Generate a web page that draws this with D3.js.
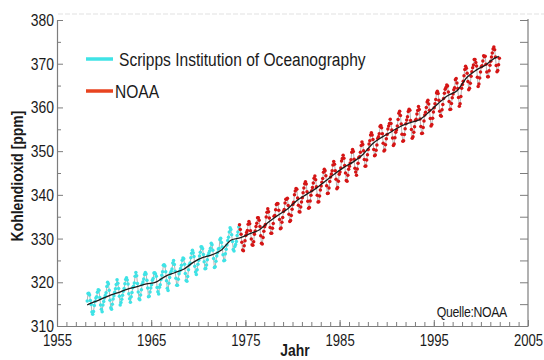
<!DOCTYPE html>
<html>
<head>
<meta charset="utf-8">
<script src="https://cdn.jsdelivr.net/npm/d3@7"></script>
<style>
  html, body { margin: 0; padding: 0; background: #fff; }
  svg { display: block; }
  .lbl { font-family: "Liberation Sans", Arial, Helvetica, sans-serif; }
</style>
</head>
<body>
<svg id="chart" width="544" height="360"></svg>
<script>
// Mauna Loa monthly mean CO2 (ppm)
// Scripps series: March 1958 .. April 1974
const scrippsStart = [1958, 3];
const scrippsPpm = [
  315.71, 317.45, 317.50, 317.10, 315.86, 314.93, 313.20, 312.66, 313.33, 314.67,
  315.62, 316.38, 316.71, 317.72, 318.29, 318.15, 316.54, 314.80, 313.84, 313.26, 314.80, 315.58,
  316.43, 316.97, 317.58, 319.02, 320.03, 319.59, 318.18, 315.91, 314.16, 313.83, 315.00, 316.19,
  316.93, 317.70, 318.54, 319.48, 320.58, 319.77, 318.57, 316.79, 314.80, 315.38, 316.10, 317.01,
  317.94, 318.56, 319.68, 320.63, 321.01, 320.55, 319.58, 317.40, 316.26, 315.42, 316.69, 317.69,
  318.74, 319.08, 319.86, 321.39, 322.25, 321.47, 319.74, 317.77, 316.21, 315.99, 317.12, 318.31,
  319.57, 320.07, 320.73, 321.77, 322.25, 321.89, 320.44, 318.70, 316.70, 316.79, 317.79, 318.71,
  319.44, 320.44, 320.89, 322.13, 322.16, 321.87, 321.39, 318.81, 317.81, 317.30, 318.87, 319.42,
  320.62, 321.59, 322.39, 323.87, 324.01, 323.75, 322.39, 320.37, 318.64, 318.10, 319.79, 321.08,
  322.07, 322.50, 323.04, 324.42, 325.00, 324.09, 322.55, 320.92, 319.31, 319.31, 320.72, 321.96,
  322.57, 323.15, 323.89, 325.02, 325.57, 325.36, 324.14, 322.03, 320.41, 320.25, 321.31, 322.84,
  324.00, 324.42, 325.64, 326.66, 327.34, 326.76, 325.88, 323.67, 322.38, 321.78, 322.85, 324.11,
  325.03, 325.99, 326.87, 328.13, 328.07, 327.66, 326.35, 324.69, 323.10, 323.16, 323.98, 325.13,
  326.17, 326.68, 327.18, 327.78, 328.92, 328.57, 327.34, 325.46, 323.36, 323.57, 324.80, 326.01,
  326.77, 327.63, 327.75, 329.72, 330.07, 329.09, 328.05, 326.32, 324.93, 325.06, 326.50, 327.55,
  328.54, 329.56, 330.30, 331.50, 332.48, 332.07, 330.87, 329.31, 327.51, 327.18, 328.16, 328.64,
  329.35, 330.71, 331.48, 332.65
];

// NOAA series: May 1974 .. December 2001
const noaaStart = [1974, 5];
const noaaPpm = [
  333.16, 332.06, 330.99, 329.17, 327.41, 327.20, 328.33, 329.50,
  330.68, 331.41, 331.85, 333.29, 333.91, 333.40, 331.78, 329.88, 328.57, 328.46, 329.26, 330.97,
  331.71, 332.76, 333.48, 334.78, 334.78, 334.17, 332.78, 330.64, 328.95, 328.77, 330.23, 331.69,
  332.70, 333.24, 334.96, 336.04, 336.82, 336.13, 334.73, 332.52, 331.19, 331.19, 332.35, 333.47,
  335.11, 335.26, 336.60, 337.77, 338.00, 337.99, 336.48, 334.37, 332.27, 332.41, 333.76, 334.83,
  336.21, 336.64, 338.12, 339.02, 339.02, 339.20, 337.58, 335.55, 333.89, 334.14, 335.26, 336.71,
  337.81, 338.29, 340.04, 340.86, 341.47, 341.26, 339.29, 337.60, 336.12, 336.08, 337.22, 338.34,
  339.36, 340.51, 341.57, 342.56, 343.01, 342.47, 340.71, 338.52, 336.96, 337.13, 338.58, 339.89,
  340.93, 341.69, 342.69, 343.79, 344.30, 343.43, 341.88, 339.89, 338.39, 338.43, 339.74, 341.12,
  342.04, 342.87, 343.74, 345.17, 345.86, 345.52, 344.35, 342.06, 340.29, 340.38, 341.59, 343.05,
  344.10, 344.79, 345.52, 346.84, 347.63, 346.98, 345.53, 343.55, 341.40, 341.67, 343.11, 344.70,
  345.21, 346.16, 347.74, 348.34, 349.06, 348.38, 346.72, 345.02, 343.27, 343.13, 344.49, 345.88,
  346.56, 347.28, 348.01, 349.77, 350.38, 349.93, 348.16, 346.08, 345.22, 344.51, 345.93, 347.22,
  348.52, 348.73, 349.73, 351.31, 352.09, 351.53, 350.11, 348.08, 346.52, 346.59, 347.96, 349.16,
  350.39, 351.64, 352.40, 353.69, 354.21, 353.72, 352.69, 350.40, 348.92, 349.13, 350.20, 351.41,
  352.91, 353.27, 353.96, 355.64, 355.86, 355.37, 353.99, 351.81, 350.05, 350.25, 351.49, 352.85,
  353.80, 355.04, 355.73, 356.32, 357.32, 356.34, 354.84, 353.01, 351.31, 351.62, 353.07, 354.33,
  354.84, 355.73, 357.23, 358.66, 359.13, 358.13, 356.19, 353.85, 352.25, 352.35, 353.81, 355.12,
  356.25, 357.11, 357.86, 359.09, 359.59, 359.33, 357.01, 354.94, 352.96, 353.32, 354.32, 355.57,
  357.00, 357.31, 358.47, 359.27, 360.19, 359.52, 357.33, 355.64, 354.03, 354.12, 355.41, 356.91,
  358.24, 358.92, 359.99, 361.23, 361.65, 360.81, 359.38, 357.46, 355.73, 356.08, 357.53, 358.98,
  359.92, 360.86, 361.83, 363.30, 363.69, 363.19, 361.64, 359.12, 358.17, 357.99, 359.45, 360.68,
  362.07, 363.24, 364.17, 364.57, 365.13, 364.92, 363.55, 361.38, 359.54, 359.58, 360.89, 362.24,
  363.09, 364.03, 364.51, 366.35, 366.64, 365.59, 364.31, 362.25, 360.29, 360.82, 362.49, 364.38,
  365.27, 365.98, 367.24, 368.66, 369.42, 368.99, 367.82, 365.95, 364.02, 364.40, 365.52, 367.13,
  368.18, 369.07, 369.68, 370.99, 370.96, 370.30, 369.45, 366.90, 364.81, 365.37, 366.72, 368.10,
  369.29, 369.54, 370.60, 371.82, 371.58, 371.70, 369.86, 368.13, 367.00, 367.03, 368.37, 369.67,
  370.59, 371.51, 372.43, 373.37, 373.85, 373.21, 371.51, 369.61, 368.18, 368.45, 369.76, 371.24
];

// Long-term trend (annual means, plotted mid-year, plus record ends)
const trendYears = [1958.2, 1958.5, 1959.5, 1960.5, 1961.5, 1962.5, 1963.5, 1964.5, 1965.5, 1966.5,
  1967.5, 1968.5, 1969.5, 1970.5, 1971.5, 1972.5, 1973.5, 1974.5, 1975.5, 1976.5, 1977.5, 1978.5,
  1979.5, 1980.5, 1981.5, 1982.5, 1983.5, 1984.5, 1985.5, 1986.5, 1987.5, 1988.5, 1989.5, 1990.5,
  1991.5, 1992.5, 1993.5, 1994.5, 1995.5, 1996.5, 1997.5, 1998.5, 1999.5, 2000.5, 2001.5, 2001.9];
const trendPpm = [314.8, 315.1, 315.98, 316.91, 317.64, 318.45, 318.99, 319.62, 320.04, 321.37,
  322.18, 323.05, 324.62, 325.68, 326.32, 327.46, 329.68, 330.19, 331.12, 332.03, 333.84, 335.41,
  336.84, 338.76, 340.12, 341.48, 343.15, 344.85, 346.35, 347.61, 349.31, 351.69, 353.20, 354.45,
  355.70, 356.54, 357.21, 358.96, 360.97, 362.74, 363.88, 366.84, 368.54, 369.71, 371.32, 371.7];

const xTicksMajor = [1955, 1965, 1975, 1985, 1995, 2005];
const yTicksMajor = [310, 320, 330, 340, 350, 360, 370, 380];
const legendLabels = ["Scripps Institution of Oceanography", "NOAA"];
const sourceLabel = "Quelle:NOAA";
const xTitle = "Jahr";
const yTitle = "Kohlendioxid [ppm]";

const COL_SCRIPPS = "#3fe3e6";
const COL_NOAA = "#d51515";
const COL_NOAA_KEY = "#e8431f";
const COL_AXIS = "#7d7d7d";
const NARROW = 0.82; // horizontal condensing applied to all labels

function toPoints(start, values) {
  return values.map((v, i) => {
    const m = start[1] - 1 + i;
    return { t: start[0] + Math.floor(m / 12) + ((m % 12) + 0.5) / 12, v };
  });
}
const scripps = toPoints(scrippsStart, scrippsPpm);
const noaa = toPoints(noaaStart, noaaPpm);
const trend = trendYears.map((t, i) => ({ t, v: trendPpm[i] }));

const svg = d3.select("#chart");
const x = d3.scaleLinear().domain([1955, 2005]).range([57, 528]);
const y = d3.scaleLinear().domain([310, 380]).range([326, 20]);

// faint dashed rule along the top edge
svg.append("line")
  .attr("x1", 58).attr("x2", 544).attr("y1", 14).attr("y2", 14)
  .attr("stroke", "#e2e2e2").attr("stroke-width", 1.2).attr("stroke-dasharray", "5,2");

// minor ticks
const minorYears = d3.range(1955, 2006, 1);
svg.append("g").attr("transform", `translate(0,${y(310)})`)
  .call(d3.axisBottom(x).tickValues(minorYears).tickSize(-4).tickSizeOuter(0).tickFormat(""))
  .call(g => g.select(".domain").remove())
  .call(g => g.selectAll(".tick line").attr("stroke", COL_AXIS));
svg.append("g").attr("transform", `translate(${x(1955)},0)`)
  .call(d3.axisLeft(y).tickValues(d3.range(315, 380, 10)).tickSize(-4).tickSizeOuter(0).tickFormat(""))
  .call(g => g.select(".domain").remove())
  .call(g => g.selectAll(".tick line").attr("stroke", COL_AXIS));

// main axes
const gx = svg.append("g").attr("transform", `translate(0,${y(310)})`)
  .call(d3.axisBottom(x).tickValues(xTicksMajor).tickSize(-6).tickSizeOuter(0).tickPadding(9).tickFormat(d3.format("d")));
const gy = svg.append("g").attr("transform", `translate(${x(1955)},0)`)
  .call(d3.axisLeft(y).tickValues(yTicksMajor).tickSize(-6).tickSizeOuter(0).tickPadding(3));
const gr = svg.append("g").attr("transform", `translate(${x(2005)},0)`)
  .call(d3.axisRight(y).tickValues(d3.range(310, 381, 5)).tickSize(-8).tickSizeOuter(0).tickFormat(""));

[gx, gy, gr].forEach(g => {
  g.selectAll(".domain").attr("stroke", COL_AXIS).attr("stroke-width", 1.2);
  g.selectAll(".tick line").attr("stroke", COL_AXIS);
  g.selectAll("text").attr("class", "lbl").attr("font-size", 16).attr("fill", "#1a1a1a")
    .attr("font-family", null);
});
gy.selectAll("text").attr("font-size", 17);
gr.selectAll(".domain").attr("d", `M0,${y(380) - 1}V${y(310)}`);

// seasonal series: thin connecting line plus monthly dots
const line = d3.line().x(d => x(d.t)).y(d => y(d.v));
function drawSeries(data, color) {
  svg.append("path").datum(data).attr("d", line)
    .attr("fill", "none").attr("stroke", "#a0a0a0").attr("stroke-width", 0.8);
  svg.append("g").selectAll("circle").data(data).join("circle")
    .attr("cx", d => x(d.t)).attr("cy", d => y(d.v)).attr("r", 1.75)
    .attr("fill", color);
}
drawSeries(scripps, COL_SCRIPPS);
drawSeries(noaa, COL_NOAA);

// trend
svg.append("path").datum(trend)
  .attr("d", d3.line().x(d => x(d.t)).y(d => y(d.v)).curve(d3.curveMonotoneX))
  .attr("fill", "none").attr("stroke", "#1c1c1c").attr("stroke-width", 1.3);

// legend
const legend = svg.append("g");
[[legendLabels[0], COL_SCRIPPS, 59, 119], [legendLabels[1], COL_NOAA_KEY, 91, 115]].forEach(([txt, col, yy, tx]) => {
  legend.append("line").attr("x1", 86).attr("x2", 113).attr("y1", yy).attr("y2", yy)
    .attr("stroke", col).attr("stroke-width", 3.5);
  legend.append("text").attr("class", "lbl").attr("x", tx).attr("y", yy).attr("dy", "0.35em")
    .attr("font-size", 19).attr("fill", "#1a1a1a").text(txt);
});

// source note
svg.append("text").attr("class", "lbl").attr("x", 507).attr("y", 317)
  .attr("text-anchor", "end").attr("font-size", 15).attr("letter-spacing", -0.4)
  .attr("fill", "#1a1a1a").text(sourceLabel);

// axis titles
svg.append("text").attr("class", "lbl").attr("x", 295).attr("y", 356)
  .attr("text-anchor", "middle").attr("font-size", 17).attr("font-weight", "bold")
  .attr("fill", "#1a1a1a").text(xTitle);
svg.append("text").attr("class", "lbl").attr("x", 0).attr("y", 0)
  .attr("data-base", "translate(23,176) rotate(-90)")
  .attr("text-anchor", "middle").attr("font-size", 17).attr("font-weight", "bold")
  .attr("fill", "#1a1a1a").text(yTitle);

// condense all label text horizontally around its own anchor point
svg.selectAll("text.lbl").each(function () {
  const t = d3.select(this);
  const base = t.attr("data-base") || "";
  const ax = +(t.attr("x") || 0), ay = +(t.attr("y") || 0);
  t.attr("transform", `${base} translate(${ax},${ay}) scale(${NARROW},1) translate(${-ax},${-ay})`);
});
</script>
</body>
</html>
